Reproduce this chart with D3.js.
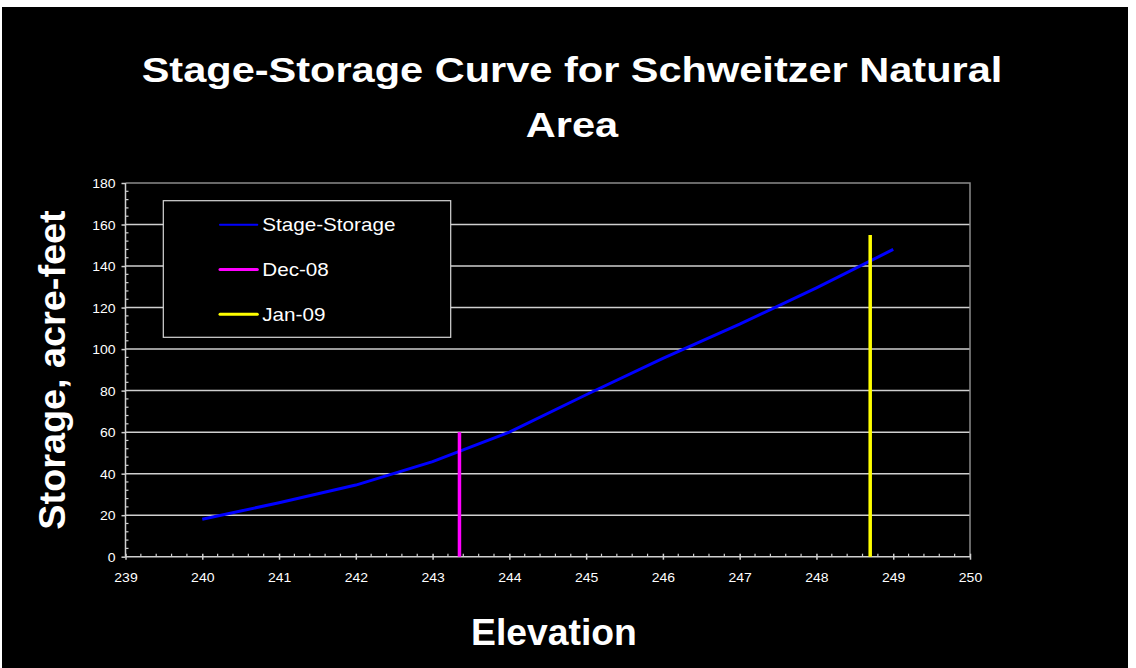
<!DOCTYPE html>
<html>
<head>
<meta charset="utf-8">
<script src="https://cdn.jsdelivr.net/npm/d3@7"></script>
<style>
  html, body { margin: 0; padding: 0; background: #ffffff; }
  svg { display: block; }
  text { font-family: "Liberation Sans", Arial, Helvetica, sans-serif; fill: #ffffff; }
</style>
</head>
<body>
<svg id="chart" width="1136" height="668"></svg>
<script>
// Stage-storage relation (elevation vs. storage in acre-feet)
const elevation = [240, 241, 242, 243, 244, 245, 246, 247, 248, 249];
const storage   = [18, 26, 34.5, 45.8, 60, 78, 95.5, 112, 129.5, 148];

// Observed water levels drawn as vertical markers
const markerNames  = ["Dec-08", "Jan-09"];
const markerElev   = [243.35, 248.7];
const markerTop    = [60, 155];
const markerColors = ["#ff00ff", "#ffff00"];

const seriesName  = "Stage-Storage";
const seriesColor = "#0000ff";

const xTicks = [239, 240, 241, 242, 243, 244, 245, 246, 247, 248, 249, 250];
const yTicks = [0, 20, 40, 60, 80, 100, 120, 140, 160, 180];

const titleLines = ["Stage-Storage Curve for Schweitzer Natural", "Area"];
const xTitle = "Elevation";
const yTitle = "Storage, acre-feet";

const W = 1136, H = 668;
const plot = { left: 125.5, right: 970, top: 183, bottom: 556.7 };
const WIDE = 1.16; // horizontal stretch of the chart's lettering

const svg = d3.select("#chart");

// page frame
svg.append("rect").attr("x", 2).attr("y", 7).attr("width", 1126).attr("height", H - 7).attr("fill", "#000");

const x = d3.scaleLinear().domain([239, 250]).range([plot.left, plot.right]);
const y = d3.scaleLinear().domain([0, 180]).range([plot.bottom, plot.top]);

function wideText(g, tx, ty, str, size, weight, anchor, k) {
  return g.append("text")
    .attr("transform", `translate(${tx},${ty}) scale(${k},1)`)
    .attr("text-anchor", anchor)
    .style("font-size", size + "px")
    .style("font-weight", weight)
    .text(str);
}

// title
titleLines.forEach((t, i) => wideText(svg, 572, 82 + i * 55, t, 35.5, "bold", "middle", 1.17));

// horizontal gridlines
svg.append("g").selectAll("line").data(yTicks.filter(v => v > 0 && v < 180)).join("line")
  .attr("x1", plot.left).attr("x2", plot.right)
  .attr("y1", d => y(d)).attr("y2", d => y(d))
  .attr("stroke", "#cfcfcf").attr("stroke-width", 1.5);

// plot border (top & right)
svg.append("path")
  .attr("d", `M${plot.left},${plot.top}H${plot.right}V${plot.bottom}`)
  .attr("fill", "none").attr("stroke", "#8a8a8a").attr("stroke-width", 1.5);

// y axis: major ticks outside, minor ticks inside
const yAxis = svg.append("g").attr("transform", `translate(${plot.left},0)`);
yAxis.call(d3.axisLeft(y).tickValues(yTicks).tickSize(4).tickFormat(d3.format("d")).tickPadding(6));
yAxis.select(".domain").remove();
yAxis.selectAll(".tick line").attr("stroke", "#cfcfcf").attr("stroke-width", 1.5);
yAxis.selectAll(".tick text").remove();
yAxis.selectAll(".tick").each(function(d) {
  wideText(d3.select(this), -10, 4.5, d, 12.5, "normal", "end", 1.12);
});
const yMinor = d3.range(0, 181, 4).filter(v => v % 20 !== 0);
yAxis.append("g").selectAll("line").data(yMinor).join("line")
  .attr("x1", 0).attr("x2", 3).attr("y1", d => y(d)).attr("y2", d => y(d))
  .attr("stroke", "#cfcfcf").attr("stroke-width", 1.2);
yAxis.append("line").attr("y1", plot.top).attr("y2", plot.bottom)
  .attr("stroke", "#cfcfcf").attr("stroke-width", 1.5);

// x axis: major ticks crossing down, minor ticks inside
const xAxis = svg.append("g").attr("transform", `translate(0,${plot.bottom})`);
xAxis.call(d3.axisBottom(x).tickValues(xTicks).tickSize(3).tickFormat(d3.format("d")));
xAxis.select(".domain").remove();
xAxis.selectAll(".tick line").attr("y1", -3).attr("stroke", "#cfcfcf").attr("stroke-width", 1.5);
xAxis.selectAll(".tick text").remove();
xAxis.selectAll(".tick").each(function(d) {
  wideText(d3.select(this), 0, 25, d, 12.5, "normal", "middle", 1.12);
});
const xMinor = d3.range(239, 250.001, 0.2).filter(v => Math.abs(v - Math.round(v)) > 0.01);
xAxis.append("g").selectAll("line").data(xMinor).join("line")
  .attr("x1", d => x(d)).attr("x2", d => x(d)).attr("y1", 0).attr("y2", -3)
  .attr("stroke", "#cfcfcf").attr("stroke-width", 1.2);
xAxis.append("line").attr("x1", plot.left).attr("x2", plot.right)
  .attr("stroke", "#cfcfcf").attr("stroke-width", 1.5);

// stage-storage curve
const pts = elevation.map((e, i) => [e, storage[i]]);
svg.append("path").datum(pts)
  .attr("d", d3.line().x(d => x(d[0])).y(d => y(d[1])))
  .attr("fill", "none").attr("stroke", seriesColor).attr("stroke-width", 3);

// level markers
svg.append("g").selectAll("line").data(markerElev).join("line")
  .attr("x1", d => x(d)).attr("x2", d => x(d))
  .attr("y1", y(0)).attr("y2", (d, i) => y(markerTop[i]))
  .attr("stroke", (d, i) => markerColors[i]).attr("stroke-width", 3.5);

// legend
const legend = svg.append("g");
legend.append("rect").attr("x", 163.3).attr("y", 200.7).attr("width", 287.4).attr("height", 136.6)
  .attr("fill", "#000").attr("stroke", "#d8d8d8").attr("stroke-width", 1.2);
const legItems = [
  { name: seriesName, color: seriesColor, w: 2 },
  { name: markerNames[0], color: markerColors[0], w: 3 },
  { name: markerNames[1], color: markerColors[1], w: 3 }
];
legItems.forEach((it, i) => {
  const cy = 224.7 + i * 44.8;
  legend.append("line").attr("x1", 220).attr("x2", 257.3).attr("y1", cy).attr("y2", cy)
    .attr("stroke", it.color).attr("stroke-width", it.w).attr("stroke-linecap", "round");
  wideText(legend, 262.3, cy + 6.3, it.name, 17.5, "normal", "start", 1.18);
});

// axis titles
svg.append("text").attr("x", 554).attr("y", 645).attr("text-anchor", "middle")
  .style("font-size", "37.3px").style("font-weight", "bold").text(xTitle);
svg.append("text").attr("transform", `translate(65,370) rotate(-90)`).attr("text-anchor", "middle")
  .style("font-size", "37.8px").style("font-weight", "bold").text(yTitle);
</script>
</body>
</html>
